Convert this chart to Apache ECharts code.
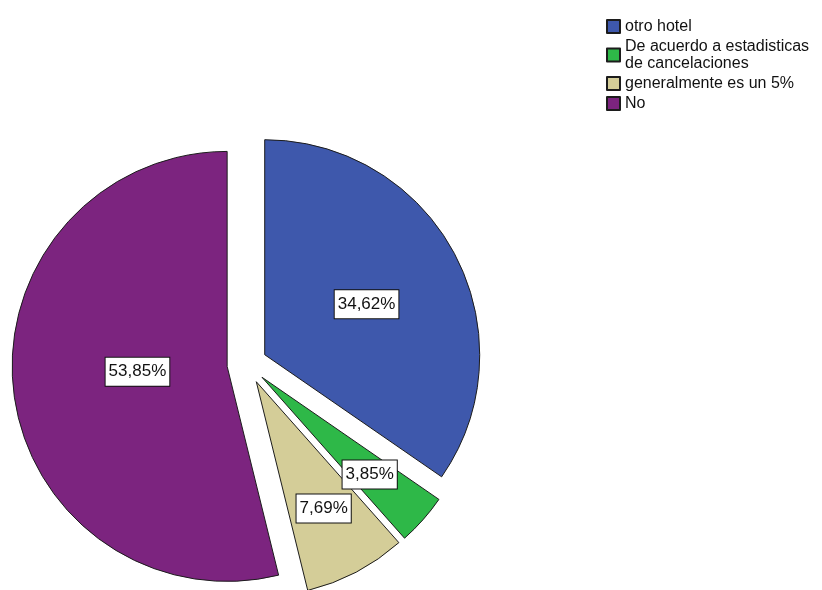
<!DOCTYPE html>
<html>
<head>
<meta charset="utf-8">
<title>Pie chart</title>
<script src="https://cdn.jsdelivr.net/npm/echarts@6/dist/echarts.min.js"></script>
<style>
  html, body { margin: 0; padding: 0; background: #ffffff; }
  #chart { width: 822px; height: 590px; }
</style>
</head>
<body>
<div id="chart"></div>
<script>
// Answer categories and their counts (percentages are derived from them)
const categories = [
  'otro hotel',
  'De acuerdo a estadisticas\nde cancelaciones',
  'generalmente es un 5%',
  'No'
];
const counts = [9, 1, 2, 14];

// Slice colours and label nudges (pixels) for each slice
const sliceColors = ['#3E58AC', '#2EB848', '#D4CD98', '#7C247F'];
const labelOffsets = [[4, 1], [25, 24], [16, 29], [20, -8]];

const total = counts.reduce((a, b) => a + b, 0);

const seriesData = categories.map((name, i) => ({
  name: name,
  value: counts[i],
  selected: true,
  itemStyle: { color: sliceColors[i] }
}));

const chart = echarts.init(document.getElementById('chart'), null, { renderer: 'canvas' });

chart.setOption({
  animation: false,
  backgroundColor: '#ffffff',
  textStyle: { fontFamily: 'Liberation Sans, Arial, sans-serif' },
  legend: {
    orient: 'vertical',
    left: 601,
    top: 13,
    itemWidth: 13,
    itemHeight: 13,
    itemGap: 3,
    icon: 'rect',
    selectedMode: false,
    textStyle: {
      fontFamily: 'Liberation Sans, Arial, sans-serif',
      fontSize: 16,
      lineHeight: 17,
      color: '#111111'
    },
    data: categories
  },
  series: [{
    type: 'pie',
    center: [247, 364],
    radius: [0, 215],
    startAngle: 90,
    clockwise: true,
    selectedMode: 'multiple',
    selectedOffset: 20,
    silent: true,
    itemStyle: { borderColor: '#1c1c1c', borderWidth: 1 },
    label: {
      show: true,
      position: 'inside',
      // exact share of each count, shown with a decimal comma
      formatter: p => (p.value / total * 100).toFixed(2).replace('.', ',') + '%',
      fontFamily: 'Liberation Sans, Arial, sans-serif',
      fontSize: 17,
      color: '#111111',
      backgroundColor: '#ffffff',
      borderColor: '#111111',
      borderWidth: 1,
      padding: [6, 3, 5, 3]
    },
    labelLayout: p => ({
      dx: labelOffsets[p.dataIndex][0],
      dy: labelOffsets[p.dataIndex][1]
    }),
    labelLine: { show: false },
    emphasis: { disabled: true },
    select: { itemStyle: { borderColor: '#1c1c1c', borderWidth: 1 } },
    data: seriesData
  }]
});
</script>
</body>
</html>
